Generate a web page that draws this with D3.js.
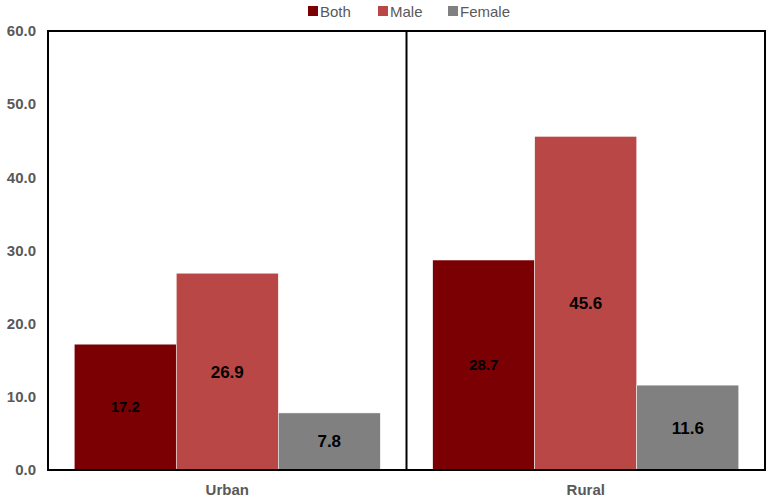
<!DOCTYPE html>
<html>
<head>
<meta charset="utf-8">
<script src="https://cdn.jsdelivr.net/npm/d3@7"></script>
<style>
  body { margin: 0; background: #fff; }
  svg text { font-family: "Liberation Sans", Arial, sans-serif; }
</style>
</head>
<body>
<div id="chart"></div>
<script>
// data
var categories = ["Urban", "Rural"];
var seriesNames = ["Both", "Male", "Female"];
var both = [17.2, 28.7];
var male = [26.9, 45.6];
var female = [7.8, 11.6];
var yTicks = [0, 10, 20, 30, 40, 50, 60];

var colors = { Both: "#7b0004", Male: "#b94745", Female: "#808080" };
var labelSize = { Both: 15, Male: 17, Female: 17 };

var width = 766, height = 500;
var margin = { top: 31, right: 1, bottom: 30, left: 48 };

var svg = d3.select('#chart')
    .append('svg')
    .attr('width', width)
    .attr('height', height);

var x0 = d3.scaleBand()
    .domain(categories)
    .range([margin.left, width - margin.right])
    .padding(0);

var x1 = d3.scaleBand()
    .domain(seriesNames)
    .range([0, x0.bandwidth()])
    .paddingInner(0)
    .paddingOuter(0.257);

var y = d3.scaleLinear()
    .domain([0, 60])
    .range([height - margin.bottom, margin.top]);

var rows = categories.map(function (c, i) {
    return { cat: c, values: [
        { key: "Both", value: both[i] },
        { key: "Male", value: male[i] },
        { key: "Female", value: female[i] }
    ] };
});

// bars
var groups = svg.selectAll('.grp').data(rows)
    .enter()
    .append('g')
    .attr('class', 'grp')
    .attr('transform', d => `translate(${x0(d.cat)},0)`);

groups.selectAll('rect').data(d => d.values)
    .enter()
    .append('rect')
    .attr('x', d => x1(d.key))
    .attr('width', x1.bandwidth())
    .attr('y', d => y(d.value))
    .attr('height', d => y(0) - y(d.value))
    .style('fill', d => colors[d.key])
    .style('stroke', '#fff')
    .style('stroke-width', 0.5);

groups.selectAll('.lbl').data(d => d.values)
    .enter()
    .append('text')
    .attr('class', 'lbl')
    .attr('x', d => x1(d.key) + x1.bandwidth() / 2)
    .attr('y', d => (y(d.value) + y(0)) / 2)
    .attr('dy', '0.35em')
    .attr('text-anchor', 'middle')
    .style('font-weight', 'bold')
    .style('font-size', d => labelSize[d.key] + 'px')
    .style('fill', '#000')
    .text(d => d.value.toFixed(1));

// y axis
var yAxis = d3.axisLeft(y)
    .tickValues(yTicks)
    .tickFormat(d3.format('.1f'))
    .tickSize(0)
    .tickPadding(12);

var gy = svg.append('g')
    .attr('transform', `translate(${margin.left},0)`)
    .call(yAxis);
gy.select('.domain').remove();
gy.selectAll('text')
    .style('font-size', '15px')
    .style('font-weight', 'bold')
    .style('fill', '#595959');

// x axis labels
svg.selectAll('.cat').data(categories)
    .enter()
    .append('text')
    .attr('class', 'cat')
    .attr('x', d => x0(d) + x0.bandwidth() / 2)
    .attr('y', height - 5)
    .attr('text-anchor', 'middle')
    .style('font-size', '15px')
    .style('font-weight', 'bold')
    .style('fill', '#595959')
    .text(d => d);

// frame and dividers
svg.append('rect')
    .attr('x', margin.left)
    .attr('y', margin.top)
    .attr('width', width - margin.right - margin.left)
    .attr('height', y(0) - margin.top)
    .style('fill', 'none')
    .style('stroke', '#000')
    .style('stroke-width', 2);

svg.selectAll('.div').data(categories.slice(1))
    .enter()
    .append('line')
    .attr('x1', d => x0(d))
    .attr('x2', d => x0(d))
    .attr('y1', margin.top)
    .attr('y2', y(0))
    .style('stroke', '#000')
    .style('stroke-width', 2);

// legend
var legendX = [308, 378, 448];
var legend = svg.selectAll('.leg').data(seriesNames)
    .enter()
    .append('g')
    .attr('class', 'leg')
    .attr('transform', (d, i) => `translate(${legendX[i]},6)`);

legend.append('rect')
    .attr('width', 10)
    .attr('height', 10)
    .style('fill', d => colors[d]);

legend.append('text')
    .attr('x', 12)
    .attr('y', 10.5)
    .style('font-size', '15px')
    .style('fill', '#595959')
    .text(d => d);
</script>
</body>
</html>
